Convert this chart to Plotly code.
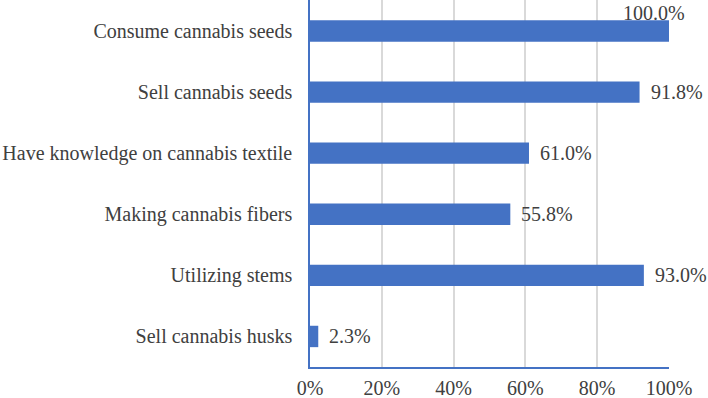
import plotly.graph_objects as go

categories = ["Consume cannabis seeds", "Sell cannabis seeds", "Have knowledge on cannabis textile",
              "Making cannabis fibers", "Utilizing stems", "Sell cannabis husks"]
values = [1.000, 0.918, 0.610, 0.558, 0.930, 0.023]
tick_vals = [0, 0.2, 0.4, 0.6, 0.8, 1.0]
tick_text = ["0%", "20%", "40%", "60%", "80%", "100%"]

FONT = "Liberation Serif, Times New Roman, serif"
BLUE = "#4472C4"
TXT = "#404040"
FS = 20

fig = go.Figure(go.Bar(
    x=values, y=categories, orientation="h",
    marker=dict(color=BLUE, line=dict(width=0)),
    hoverinfo="skip",
))

ann = []
for c, v in zip(categories, values):
    if v >= 1.0:
        ann.append(dict(x=v, y=c, xref="x", yref="y", text=f"{v*100:.1f}%", showarrow=False,
                        xanchor="center", yanchor="middle", xshift=-15, yshift=18,
                        font=dict(family=FONT, size=FS, color=TXT)))
    else:
        ann.append(dict(x=v, y=c, xref="x", yref="y", text=f"{v*100:.1f}%", showarrow=False,
                        xanchor="left", yanchor="middle", xshift=9,
                        font=dict(family=FONT, size=FS, color=TXT)))

fig.update_layout(
    width=708, height=398,
    margin=dict(l=310, r=39, t=0, b=31, autoexpand=False),
    paper_bgcolor="white", plot_bgcolor="white",
    bargap=0.65,
    showlegend=False,
    annotations=ann,
    font=dict(family=FONT, size=FS, color=TXT),
    xaxis=dict(range=[0, 1], tickvals=tick_vals, ticktext=tick_text,
               showgrid=True, gridcolor="#D9D9D9", gridwidth=1.5,
               showline=True, linecolor=BLUE, linewidth=1.5,
               zeroline=False, ticks="", ticklabelstandoff=2, automargin=False,
               tickfont=dict(family=FONT, size=FS, color=TXT)),
    yaxis=dict(categoryorder="array", categoryarray=categories[::-1],
               showgrid=False, showline=True, linecolor=BLUE, linewidth=1.5,
               ticks="", ticklabelstandoff=12, automargin=False,
               tickfont=dict(family=FONT, size=FS, color=TXT)),
)

fig.write_html("out.html", config={"displayModeBar": False},
               post_script="document.body.style.margin='0';document.body.style.overflow='hidden';")
